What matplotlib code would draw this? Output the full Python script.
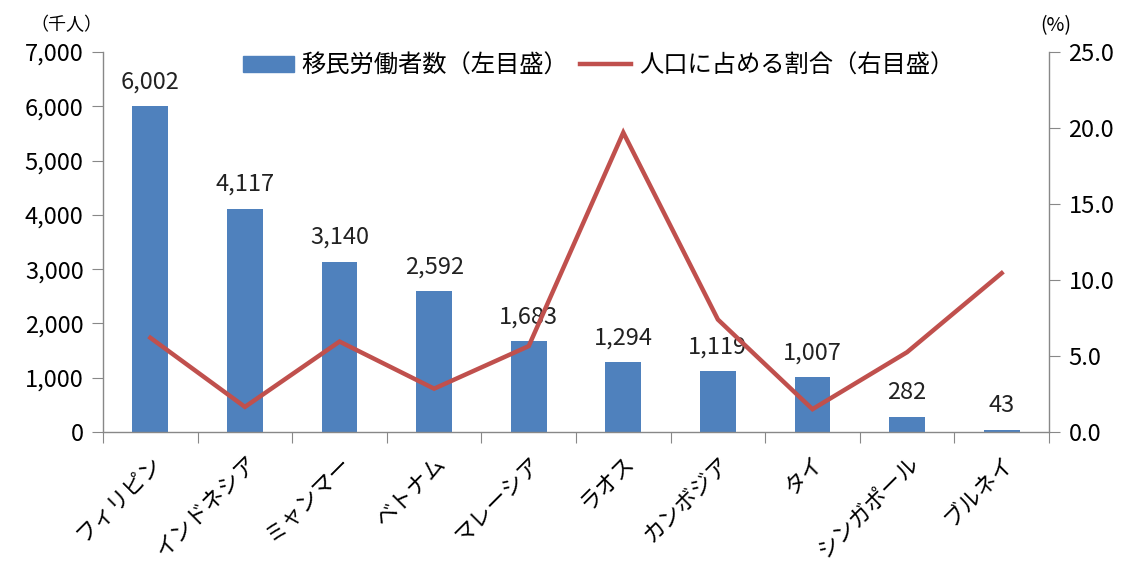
import matplotlib
matplotlib.use("Agg")
import matplotlib.pyplot as plt
from matplotlib.lines import Line2D
from matplotlib.patches import Patch
import numpy as np

plt.rcParams['font.family'] = ['Noto Sans CJK JP', 'DejaVu Sans']

countries = ["フィリピン", "インドネシア", "ミャンマー", "ベトナム", "マレーシア",
             "ラオス", "カンボジア", "タイ", "シンガポール", "ブルネイ"]
workers = [6002, 4117, 3140, 2592, 1683, 1294, 1119, 1007, 282, 43]
share_pct = [6.2, 1.65, 5.95, 2.85, 5.65, 19.7, 7.4, 1.5, 5.25, 10.45]

left_ticks = [0, 1000, 2000, 3000, 4000, 5000, 6000, 7000]
right_ticks = [0, 5, 10, 15, 20, 25]

BLUE = "#4F81BD"
RED = "#C0504D"
GRID = "#888888"

fig = plt.figure(figsize=(11.25, 5.69), dpi=100)
ax = fig.add_axes([0.0916, 0.2408, 0.8408, 0.6678])
ax2 = ax.twinx()

x = np.arange(len(countries))
ax.bar(x, workers, width=0.38, color=BLUE, zorder=2)
for xi, v in zip(x, workers):
    ax.annotate(f"{v:,}", (xi, v), xytext=(0, 9), textcoords="offset points",
                ha="center", va="bottom", fontsize=17, color="#222222")

ax2.plot(x, share_pct, color=RED, lw=3.2, solid_joinstyle="miter", zorder=3)

ax.set_xlim(-0.5, len(countries) - 0.5)
ax.set_ylim(0, 7000)
ax2.set_ylim(0, 25)
ax.set_yticks(left_ticks)
ax.set_yticklabels([f"{t:,}" for t in left_ticks], fontsize=17)
ax2.set_yticks(right_ticks)
ax2.set_yticklabels([f"{t:.1f}" for t in right_ticks], fontsize=17)

ax.set_xticks(np.arange(len(countries) + 1) - 0.5)
ax.set_xticklabels([])
ax.set_xticks(x, minor=True)
ax.set_xticklabels(countries, minor=True, rotation=45, ha="right", va="top",
                   rotation_mode="anchor", fontsize=16)
ax.tick_params(axis="x", which="minor", length=0, pad=14)
ax.tick_params(axis="x", which="major", length=8, color=GRID, direction="out")
ax.tick_params(axis="y", length=8, color=GRID, direction="out", pad=6)
ax2.tick_params(axis="y", length=8, color=GRID, direction="out", pad=6)

for a in (ax, ax2):
    a.spines["top"].set_visible(False)
    for s in ("left", "right", "bottom"):
        a.spines[s].set_color(GRID)
        a.spines[s].set_linewidth(1.0)
ax.spines["right"].set_visible(False)
ax2.spines["left"].set_visible(False)
ax2.spines["bottom"].set_visible(False)

fig.text(0.027, 0.955, "（千人）", fontsize=13, ha="left", va="center")
fig.text(0.925, 0.955, "(%)", fontsize=14, ha="left", va="center")

handles = [Patch(facecolor=BLUE, edgecolor=BLUE),
           Line2D([0], [0], color=RED, lw=3.2)]
labels = ["移民労働者数（左目盛）", "人口に占める割合（右目盛）"]
fig.legend(handles, labels, loc="center", bbox_to_anchor=(0.532, 0.885),
           ncol=2, frameon=False, fontsize=17.5, handlelength=2.1,
           handleheight=0.6, columnspacing=0.5, handletextpad=0.3)

fig.savefig("out.png", dpi=100)
